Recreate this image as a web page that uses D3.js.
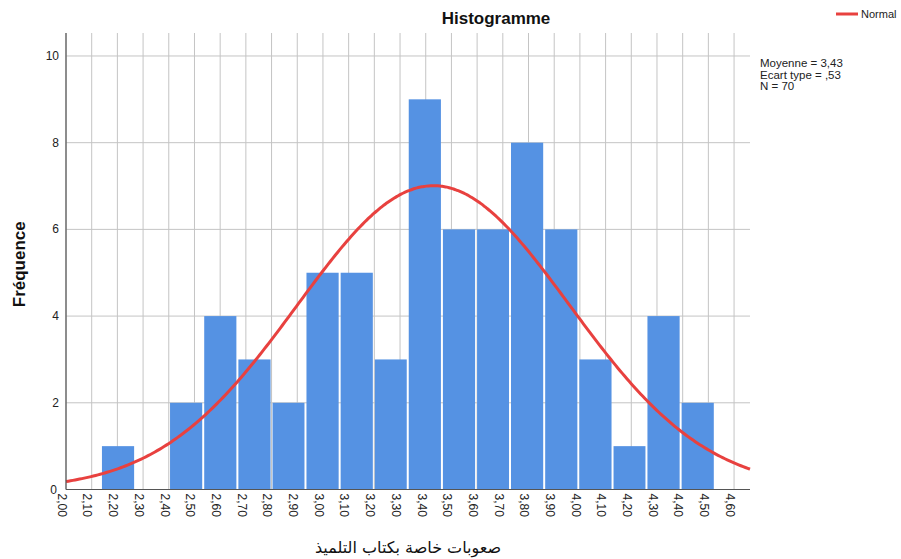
<!DOCTYPE html>
<html>
<head>
<meta charset="utf-8">
<script src="https://cdn.jsdelivr.net/npm/d3@7"></script>
<style>
  html, body { margin: 0; padding: 0; background: #fff; }
  svg { display: block; font-family: "Liberation Sans", Arial, "DejaVu Sans", sans-serif; }
</style>
</head>
<body>
<svg id="chart" width="901" height="559"></svg>
<script>
// Histogram bin edges (score values) and counts per bin
const binEdges = [2.136, 2.269, 2.401, 2.534, 2.667, 2.800, 2.932, 3.065, 3.198, 3.330,
                  3.463, 3.596, 3.728, 3.861, 3.994, 4.127, 4.259, 4.392, 4.525];
const binCounts = [1, 0, 2, 4, 3, 2, 5, 5, 3, 9, 6, 6, 8, 6, 3, 1, 4, 2];

// Axis ticks
const xTicks = [2.00, 2.10, 2.20, 2.30, 2.40, 2.50, 2.60, 2.70, 2.80, 2.90, 3.00, 3.10, 3.20,
                3.30, 3.40, 3.50, 3.60, 3.70, 3.80, 3.90, 4.00, 4.10, 4.20, 4.30, 4.40, 4.50, 4.60];
const yTicks = [0, 2, 4, 6, 8, 10];

// Summary statistics
const stats = { mean: 3.43, sd: 0.53, n: 70 };
const statLines = ["Moyenne = 3,43", "Ecart type = ,53", "N = 70"];

const titleText = "Histogramme";
const xTitle = "صعوبات خاصة بكتاب التلميذ";
const yTitle = "Fréquence";
const legendLabel = "Normal";

const barColor = "#5592e3";
const curveColor = "#e8413f";

const svg = d3.select("#chart");
const plot = { left: 66, right: 750, top: 33, bottom: 489.5 };

const x = d3.scaleLinear().domain([2.0, 4.662]).range([plot.left, plot.right]);
const y = d3.scaleLinear().domain([0, 10.53]).range([plot.bottom, plot.top]);

const fmt = v => d3.format(".2f")(v).replace(".", ",");

// grid
svg.append("g").selectAll("line").data(xTicks).join("line")
  .attr("x1", d => x(d)).attr("x2", d => x(d))
  .attr("y1", plot.top).attr("y2", plot.bottom)
  .attr("stroke", "#c4c4c4").attr("stroke-width", 1);
svg.append("g").selectAll("line").data(yTicks.filter(d => d > 0)).join("line")
  .attr("x1", plot.left).attr("x2", plot.right)
  .attr("y1", d => y(d)).attr("y2", d => y(d))
  .attr("stroke", "#c4c4c4").attr("stroke-width", 1);

// bars
const bins = binCounts.map((c, i) => ({ x0: binEdges[i], x1: binEdges[i + 1], count: c }));
svg.append("g").selectAll("rect").data(bins.filter(b => b.count > 0)).join("rect")
  .attr("x", d => x(d.x0) + 1)
  .attr("width", d => x(d.x1) - x(d.x0) - 2)
  .attr("y", d => y(d.count))
  .attr("height", d => y(0) - y(d.count))
  .attr("fill", barColor);

// normal curve scaled to bin width and N
const binWidth = binEdges[1] - binEdges[0];
const curvePts = d3.range(0, 301).map(i => {
  const v = 2.0 + (4.662 - 2.0) * i / 300;
  const z = (v - stats.mean) / stats.sd;
  return [v, stats.n * binWidth / (stats.sd * Math.sqrt(2 * Math.PI)) * Math.exp(-0.5 * z * z)];
});
svg.append("path")
  .datum(curvePts)
  .attr("d", d3.line().x(d => x(d[0])).y(d => y(d[1])).curve(d3.curveBasis))
  .attr("fill", "none").attr("stroke", curveColor).attr("stroke-width", 3);

// axes lines
const axisColor = "#555";
svg.append("line").attr("x1", plot.left).attr("x2", plot.left)
  .attr("y1", plot.top).attr("y2", plot.bottom).attr("stroke", axisColor).attr("stroke-width", 1.2);
svg.append("line").attr("x1", plot.left).attr("x2", plot.right)
  .attr("y1", plot.bottom).attr("y2", plot.bottom).attr("stroke", axisColor).attr("stroke-width", 1.2);

// y tick labels
svg.append("g").selectAll("text").data(yTicks).join("text")
  .attr("x", d => d === 0 ? 57 : 59)
  .attr("y", d => y(d) + 4)
  .attr("text-anchor", "end")
  .attr("font-size", 12).attr("fill", "#222")
  .text(d => d);

// x tick labels (rotated)
svg.append("g").selectAll("text").data(xTicks).join("text")
  .attr("transform", d => `translate(${x(d) - 4},${plot.bottom + 4}) rotate(90)`)
  .attr("text-anchor", "start")
  .attr("dy", "0.35em")
  .attr("font-size", 12).attr("fill", "#222")
  .text(d => fmt(d));

// titles
svg.append("text").attr("x", 496).attr("y", 24).attr("text-anchor", "middle")
  .attr("font-size", 17).attr("font-weight", "bold").attr("fill", "#111").text(titleText);
svg.append("text").attr("transform", `translate(25,${(plot.top + plot.bottom) / 2 + 3}) rotate(-90)`)
  .attr("text-anchor", "middle").attr("font-size", 17).attr("font-weight", "bold")
  .attr("fill", "#111").text(yTitle);
svg.append("text").attr("x", (plot.left + plot.right) / 2).attr("y", 553)
  .attr("text-anchor", "middle").attr("font-size", 16).attr("fill", "#111")
  .attr("font-family", "'DejaVu Sans', sans-serif")
  .attr("direction", "rtl").text(xTitle);

// legend
svg.append("line").attr("x1", 836).attr("x2", 858).attr("y1", 14).attr("y2", 14)
  .attr("stroke", curveColor).attr("stroke-width", 3);
svg.append("text").attr("x", 861).attr("y", 18).attr("font-size", 11).attr("fill", "#222").text(legendLabel);

// statistics box
svg.append("g").selectAll("text").data(statLines).join("text")
  .attr("x", 760).attr("y", (d, i) => 67 + i * 11.5)
  .attr("font-size", 11.5).attr("fill", "#222").text(d => d);
</script>
</body>
</html>
